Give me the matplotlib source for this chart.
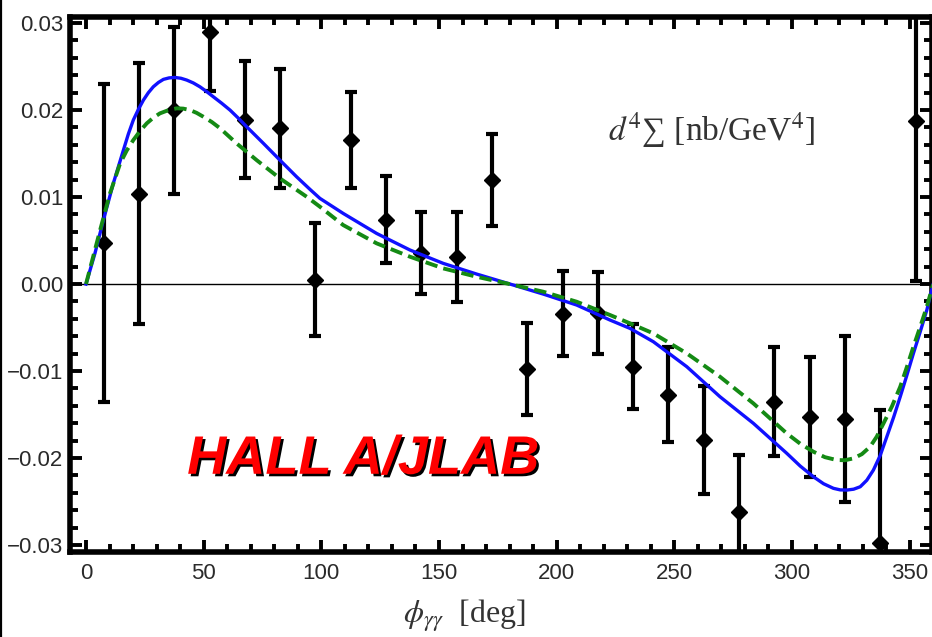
import matplotlib
matplotlib.use('Agg')
import matplotlib.pyplot as plt
import matplotlib.patheffects as pe
from matplotlib.lines import Line2D
from matplotlib.ticker import MultipleLocator

# ── data ─────────────────────────────────────────────────────────────────────
phi = [7.5, 22.5, 37.5, 52.5, 67.5, 82.5, 97.5, 112.5, 127.5, 142.5, 157.5, 172.5,
       187.5, 202.5, 217.5, 232.5, 247.5, 262.5, 277.5, 292.5, 307.5, 322.5, 337.5, 352.5]
sigma = [0.0047, 0.0104, 0.0200, 0.0290, 0.0189, 0.0179, 0.0005, 0.0166, 0.0074, 0.0036,
         0.0031, 0.0120, -0.0098, -0.0034, -0.0033, -0.0095, -0.0127, -0.0179, -0.0262,
         -0.0135, -0.0153, -0.0155, -0.0298, 0.0188]
sigma_err = [0.0183, 0.0150, 0.0096, 0.0068, 0.0067, 0.0068, 0.0065, 0.0055, 0.0050, 0.0047,
             0.0052, 0.0053, 0.0053, 0.0049, 0.0047, 0.0049, 0.0055, 0.0062, 0.0066,
             0.0063, 0.0069, 0.0095, 0.0153, 0.0185]

# theory curves
blue_phi = [0, 3.8, 7.4, 11.6, 15.9, 18.0, 20.1, 22.3, 24.4, 26.5, 28.6, 30.8, 32.9, 35.3,
            37.8, 40.3, 42.8, 45.6, 48.4, 51.2, 54.1, 57.6, 61.2, 64.7, 68.3, 75.4, 82.4,
            89.5, 95.2, 99.4, 109.3, 123.5, 137.7, 151.8, 166, 180.2, 194.3, 208.5, 222.7,
            231.2, 241.1, 255.3, 269.4, 283.6, 297.8, 303.5, 309.1, 313.4, 317.6, 320.5,
            323.3, 326.2, 329, 331.8, 334.6, 337.5, 340.3, 343.2, 346, 348.8, 351.6, 354.5,
            357.3, 360]
blue_val = [0, 0.00353, 0.00736, 0.01157, 0.0154, 0.01725, 0.01885, 0.0201, 0.02115, 0.02200,
            0.02268, 0.02318, 0.02353, 0.02370, 0.02375, 0.02366, 0.02345, 0.02312, 0.02268,
            0.02214, 0.02153, 0.02080, 0.0200, 0.01908, 0.01808, 0.01617, 0.01425, 0.01233,
            0.01088, 0.00985, 0.00812, 0.00582, 0.00391, 0.00238, 0.00115, 0.0, -0.00115,
            -0.00241, -0.00414, -0.0051, -0.00663, -0.0095, -0.01295, -0.01601, -0.01946,
            -0.02092, -0.02215, -0.02295, -0.02348, -0.02366, -0.02368, -0.02358, -0.0233,
            -0.02255, -0.02138, -0.01970, -0.01755, -0.01530, -0.01295, -0.01050, -0.00797,
            -0.00548, -0.00299, 0.0]
green_phi = [0, 6, 10.2, 14.5, 17.3, 20.1, 23.0, 25.8, 28.6, 31.4, 34.9, 38.5, 41.3, 44.2,
             47.0, 49.9, 53.5, 57, 64, 72.5, 82.4, 93.8, 99.4, 109.3, 123.5, 137.7, 151.8,
             166, 180, 194.3, 208.5, 222.7, 231.2, 241.1, 255.3, 269.4, 283.6, 297.8, 303.5,
             309.1, 314.0, 319, 322.5, 326.1, 329.7, 333.2, 336.0, 338.9, 342.5, 346, 348.8,
             351.6, 354.5, 357.3, 360]
green_val = [0, 0.0062, 0.01042, 0.01387, 0.01535, 0.01655, 0.01760, 0.01847, 0.01912,
             0.01962, 0.01998, 0.0202, 0.02017, 0.0200, 0.01968, 0.01923, 0.01862, 0.0179,
             0.01617, 0.01425, 0.01215, 0.01003, 0.00889, 0.00678, 0.00468, 0.00314, 0.0018,
             0.00084, 0.0, -0.00088, -0.00203, -0.00356, -0.00452, -0.00567, -0.00797,
             -0.01065, -0.01372, -0.01717, -0.01835, -0.01927, -0.01990, -0.02023, -0.02025,
             -0.02004, -0.01955, -0.0187, -0.01755, -0.01601, -0.01405, -0.0118, -0.00955,
             -0.00721, -0.00490, -0.00261, 0.0]

xticks = [0, 50, 100, 150, 200, 250, 300, 350]
yticks = [-0.03, -0.02, -0.01, 0.0, 0.01, 0.02, 0.03]
ytick_labels = ['\u22120.03', '\u22120.02', '\u22120.01', '0.00', '0.01', '0.02', '0.03']

# ── style ────────────────────────────────────────────────────────────────────
plt.rcParams['mathtext.fontset'] = 'stix'
W, H, DPI = 932, 637, 100
TICKCOL = '#2a2a2a'

fig = plt.figure(figsize=(W / DPI, H / DPI), dpi=DPI, facecolor='white')
ax = fig.add_axes([70 / W, 85 / H, (W - 70) / W, 535 / H])
ax.set_xlim(-6.8, 359.5)
ax.set_ylim(-0.0308, 0.0307)

for s in ax.spines.values():
    s.set_linewidth(4.0)

ax.set_xticks(xticks)
ax.set_xticklabels([str(t) for t in xticks])
ax.set_yticks(yticks)
ax.set_yticklabels(ytick_labels)
ax.xaxis.set_minor_locator(MultipleLocator(10))
ax.yaxis.set_minor_locator(MultipleLocator(0.002))
ax.tick_params(which='both', direction='in', top=True, right=True, width=2.8,
               labelsize=16, labelcolor=TICKCOL)
ax.tick_params(which='major', length=8.5)
ax.tick_params(which='minor', length=5.5)
ax.tick_params(axis='x', pad=8)
ax.tick_params(axis='y', pad=5)
for lab in ax.get_xticklabels() + ax.get_yticklabels():
    lab.set_family('Liberation Sans')

# ── marks ────────────────────────────────────────────────────────────────────
ax.axhline(0, color='black', linewidth=1.0, zorder=1)

ax.errorbar(phi, sigma, yerr=sigma_err, fmt='D', color='black', markersize=8,
            elinewidth=3.0, capsize=4.6, capthick=3.0, zorder=3)

ax.plot(blue_phi, blue_val, color='#1010ff', linewidth=2.4, zorder=4,
        solid_joinstyle='round')
ax.plot(green_phi, green_val, color='#148a14', linewidth=2.8, dashes=(3.2, 1.6), zorder=4)

# ── texts ────────────────────────────────────────────────────────────────────
ax.text(266, 0.0177, r'$d^4$' + '\u2211 [nb/GeV$^4$]', fontsize=24, color='#333333',
        family='Liberation Serif', ha='center', va='center')

ax.text(43.0, -0.0202, 'HALL A/JLAB', fontsize=39, color='#ff0000',
        family='Liberation Sans', fontweight='bold', style='italic',
        ha='left', va='center', zorder=6,
        path_effects=[pe.withSimplePatchShadow(offset=(1.8, -1.8), shadow_rgbFace='black',
                                               alpha=1.0)])

fig.text(464 / W, 1 - 616 / H, r'$\phi_{\gamma\gamma}$' + '  [deg]', fontsize=23,
         color='#333333', family='Liberation Serif', ha='center', va='center')

# thin slide border at the very left
fig.add_artist(Line2D([1.2 / W, 1.2 / W], [0, 1], color='black', linewidth=1.6,
                      transform=fig.transFigure))

fig.savefig('out.png', dpi=DPI, facecolor='white')
